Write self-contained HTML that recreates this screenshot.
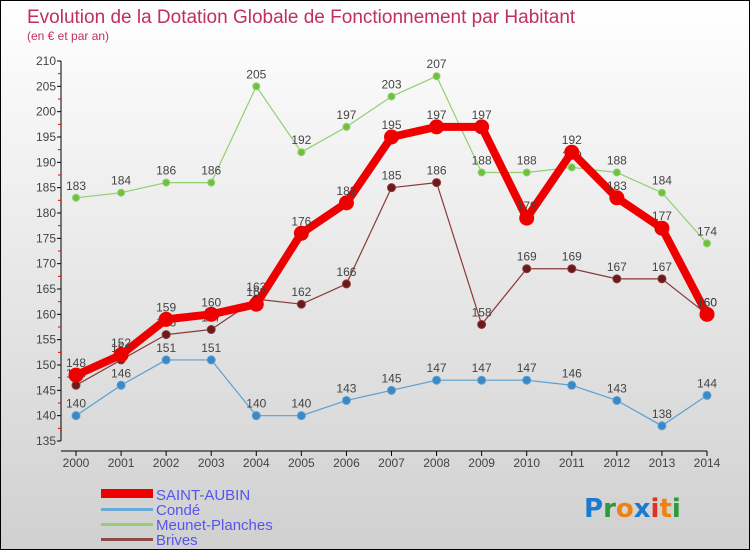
<!DOCTYPE html>
<html><head><meta charset="utf-8"><style>
body{margin:0;}
#c{width:750px;height:550px;position:relative;box-sizing:border-box;border:1px solid #000;background:linear-gradient(#ffffff,#d0d0d0);font-family:"Liberation Sans",sans-serif;overflow:hidden}
</style></head><body>
<div id="c">
<svg id="s" width="750" height="550" style="position:absolute;left:0;top:0">
<text x="26" y="22" font-size="19" fill="#c0305a">Evolution de la Dotation Globale de Fonctionnement par Habitant</text>
<text x="26" y="39" font-size="12" fill="#c0305a">(en € et par an)</text>
<g id="axes"></g><g id="series"></g>
<g>
<rect x="100" y="488" width="52" height="9" fill="#ee0000"/>
<text x="155" y="499" font-size="15" fill="#5555ee">SAINT-AUBIN</text>
<rect x="100" y="507" width="52" height="3" fill="#6aaad8"/>
<text x="155" y="514" font-size="15" fill="#5555ee">Condé</text>
<rect x="100" y="522" width="52" height="3" fill="#90d070"/>
<text x="155" y="529" font-size="15" fill="#5555ee">Meunet-Planches</text>
<rect x="100" y="537" width="52" height="3" fill="#8a4a4a"/>
<text x="155" y="544" font-size="15" fill="#5555ee">Brives</text>
</g>
<g font-size="26" font-weight="bold" font-family="'DejaVu Sans',sans-serif">
<text x="583" y="516"><tspan fill="#1a7ad0">P</tspan><tspan fill="#2a9a3a">r</tspan><tspan fill="#f08010">o</tspan><tspan fill="#1a7ad0">x</tspan><tspan fill="#e03020">i</tspan><tspan fill="#f08010">t</tspan><tspan fill="#2a9a3a">i</tspan></text>
</g>
</svg>
</div>
<script>
const years=[2000,2001,2002,2003,2004,2005,2006,2007,2008,2009,2010,2011,2012,2013,2014];
const saintAubin=[148,152,159,160,162,176,182,195,197,197,179,192,183,177,160];
const conde=[140,146,151,151,140,140,143,145,147,147,147,146,143,138,144];
const meunet=[183,184,186,186,205,192,197,203,207,188,188,189,188,184,174];
const brives=[146,151,156,157,163,162,166,185,186,158,169,169,167,167,160];
const yTicks=[135,140,145,150,155,160,165,170,175,180,185,190,195,200,205,210];
const NS="http://www.w3.org/2000/svg";
const X=i=>75+i*(706-75)/(years.length-1);
const Y=v=>440-(v-135)*(380/75);
function el(t,a,p){const e=document.createElementNS(NS,t);for(const k in a)e.setAttribute(k,a[k]);p.appendChild(e);return e;}
const ax=document.getElementById('axes');
el('line',{x1:60,y1:Y(210),x2:60,y2:Y(135),stroke:'#000'},ax);
el('line',{x1:60,y1:450,x2:706,y2:450,stroke:'#000'},ax);
yTicks.forEach(v=>{
 el('line',{x1:56,y1:Y(v),x2:60,y2:Y(v),stroke:'#000'},ax);
 if(v<210) el('line',{x1:57,y1:Y(v+2.5),x2:60,y2:Y(v+2.5),stroke:'#e00'},ax);
 const t=el('text',{x:55,y:Y(v)+4,'font-size':12,fill:'#444','text-anchor':'end'},ax);
 t.textContent=v;
 
 
});
years.forEach((y,i)=>{
 el('line',{x1:X(i),y1:450,x2:X(i),y2:455,stroke:'#000'},ax);
 const t=el('text',{x:X(i),y:466,'font-size':12,fill:'#444','text-anchor':'middle'},ax);
 t.textContent=y;
 
 
});
const sg=document.getElementById('series');
function draw(data,color,w,r,fill,name){
 const g=el('g',{},sg);
 
 
 el('polyline',{points:data.map((v,i)=>X(i)+','+Y(v)).join(' '),fill:'none',stroke:color,'stroke-width':w,'stroke-linejoin':'round'},g);
 data.forEach((v,i)=>{
  const c=el('circle',{cx:X(i),cy:Y(v),r:r,fill:fill,stroke:color,'stroke-width':1},g);
  
  
  const t=el('text',{x:X(i),y:Y(v)-8,'font-size':12,fill:'#444','text-anchor':'middle'},g);
  t.textContent=v;
  
  
 });
}
draw(conde,'#5aa0d0',1.2,4,'#3a88c8','conde');
draw(meunet,'#90d070',1.2,3.5,'#70c040','meunet');
draw(brives,'#8a3a3a',1.2,4,'#6a1a1a','brives');
draw(saintAubin,'#ee0000',8,7,'#ee0000','saint-aubin');
</script>
</body></html>
